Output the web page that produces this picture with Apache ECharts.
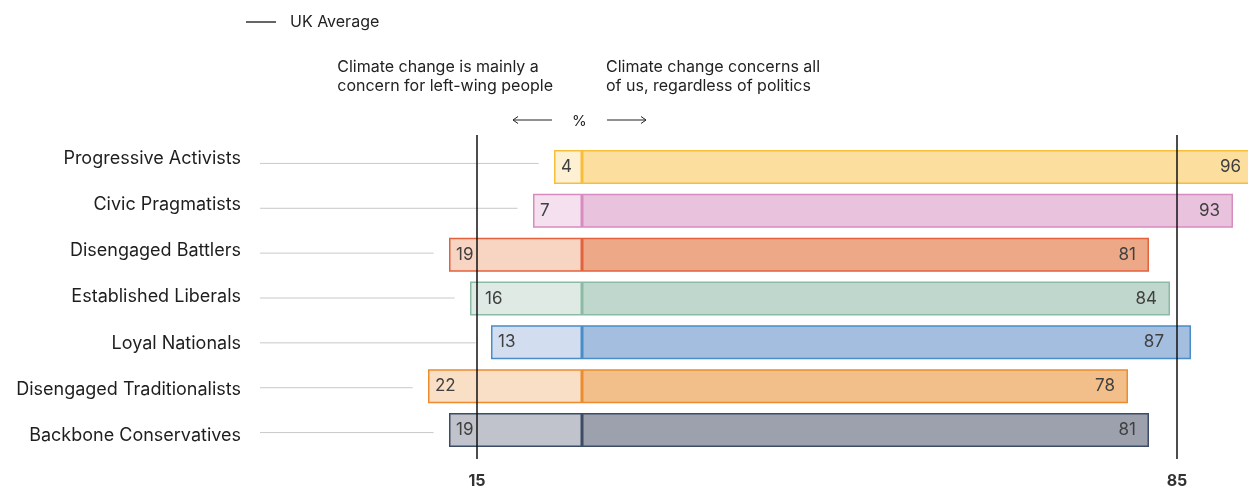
<!DOCTYPE html>
<html>
<head>
<meta charset="utf-8">
<script src="https://cdn.jsdelivr.net/npm/echarts@6/dist/echarts.min.js"></script>
<style>
  html, body { margin: 0; padding: 0; background: #fff; }
  #chart { width: 1248px; height: 489px; }
</style>
</head>
<body>
<div id="chart"></div>
<script>
// segments, top to bottom
const categories = ['Progressive Activists', 'Civic Pragmatists', 'Disengaged Battlers', 'Established Liberals',
  'Loyal Nationals', 'Disengaged Traditionalists', 'Backbone Conservatives'];
// "mainly a concern for left-wing people" (%)
const leftValues = [4, 7, 19, 16, 13, 22, 19];
// "concerns all of us, regardless of politics" (%)
const rightValues = [96, 93, 81, 84, 87, 78, 81];
const ukAverage = [15, 85];
const tickLabels = [-15, 85];

const darkColors = ['#FCDE9E', '#E9C2DE', '#EDA987', '#BFD7CC', '#A3BEDE', '#F2BE89', '#9DA1AE'];
const lightColors = ['#FEF0D3', '#F4E0EF', '#F8D5C3', '#DFEAE5', '#D2DEEF', '#F9DFC5', '#C0C3CB'];
const borderColors = ['#F7BE3C', '#D78CBF', '#E2623E', '#8CBBA5', '#4A8CC8', '#EC8C2E', '#3C4C66'];

const FONT = 'Inter, "Noto Sans", sans-serif';
const X_MIN = -46, X_MAX = 96;

var myChart = echarts.init(document.getElementById('chart'));

// push a value label clear of the UK average line when they would overlap
var leftData = leftValues.map(function (v, i) {
  var nearLine = v > ukAverage[0] && v - ukAverage[0] < 2;
  return {
    value: -v,
    itemStyle: { color: lightColors[i], borderColor: borderColors[i] },
    label: { distance: nearLine ? 15 : 7 }
  };
});
var rightData = rightValues.map(function (v, i) {
  var nearLine = v > ukAverage[1] && v - ukAverage[1] < 4;
  return {
    value: v,
    itemStyle: { color: darkColors[i], borderColor: borderColors[i] },
    label: { distance: nearLine ? 27 : 13 }
  };
});
var connectorData = leftValues.map(function (v, i) {
  return [-v, categories[i]];
});

function xAxisFor(idx, extra) {
  return Object.assign({
    type: 'value',
    gridIndex: idx,
    min: X_MIN,
    max: X_MAX,
    show: false
  }, extra || {});
}

// grid runs a little past the right edge so 96 is cut off like in the original
function gridAt(top, height) {
  return { left: 260, right: -6, top: top, height: height, outerBoundsMode: 'none', containLabel: false };
}

myChart.setOption({
  animation: false,
  textStyle: { fontFamily: FONT },
  legend: {
    left: 241,
    top: 9,
    icon: 'rect',
    itemWidth: 30,
    itemHeight: 1.3,
    itemStyle: { color: '#111' },
    data: ['UK Average'],
    textStyle: { fontSize: 16, color: '#222', padding: [0, 0, 0, 9], fontFamily: FONT }
  },
  grid: [
    gridAt(145, 307),   // bars
    gridAt(135, 324),   // labels + UK average
    gridAt(141, 314)    // connector lines
  ],
  xAxis: [
    xAxisFor(0),
    xAxisFor(1, {
      show: true,
      axisLine: { show: false },
      axisTick: { show: false },
      splitLine: { show: false },
      axisLabel: {
        customValues: tickLabels,
        formatter: function (v) { return Math.abs(v); },
        fontSize: 16,
        fontWeight: 'bold',
        color: '#333',
        margin: 14,
        fontFamily: FONT
      }
    }),
    xAxisFor(2)
  ],
  yAxis: [
    { type: 'category', gridIndex: 0, data: categories, inverse: true, show: false },
    {
      type: 'category', gridIndex: 1, data: categories, inverse: true,
      axisLine: { show: false },
      axisTick: { show: false },
      axisLabel: { fontSize: 18, color: '#1e1e1e', margin: 19, fontFamily: FONT }
    },
    { type: 'category', gridIndex: 2, data: categories, inverse: true, show: false }
  ],
  series: [
    {
      type: 'bar',
      name: 'left',
      xAxisIndex: 0,
      yAxisIndex: 0,
      stack: 'one',
      barWidth: 34,
      data: leftData,
      itemStyle: { borderWidth: 1.5 },
      label: {
        show: true,
        position: 'insideLeft',
        fontSize: 17,
        color: '#404040',
        fontFamily: FONT,
        formatter: function (p) { return Math.abs(p.value); }
      }
    },
    {
      type: 'bar',
      name: 'right',
      xAxisIndex: 0,
      yAxisIndex: 0,
      stack: 'one',
      barWidth: 34,
      data: rightData,
      itemStyle: { borderWidth: 1.5 },
      label: {
        show: true,
        position: 'insideRight',
        fontSize: 17,
        color: '#404040',
        fontFamily: FONT
      }
    },
    {
      type: 'custom',
      name: 'connectors',
      xAxisIndex: 2,
      yAxisIndex: 2,
      silent: true,
      data: connectorData,
      encode: { x: 0, y: 1 },
      renderItem: function (params, api) {
        var start = api.coord([X_MIN, api.value(1)]);
        var end = api.coord([api.value(0) - 2.2, api.value(1)]);
        return {
          type: 'line',
          shape: { x1: start[0], y1: start[1], x2: end[0], y2: end[1] },
          style: { stroke: '#c9c9c9', lineWidth: 1 }
        };
      }
    },
    {
      type: 'line',
      name: 'UK Average',
      xAxisIndex: 1,
      yAxisIndex: 1,
      symbol: 'none',
      data: [],
      lineStyle: { color: '#111', width: 1.3 },
      itemStyle: { color: '#111' },
      markLine: {
        silent: true,
        symbol: 'none',
        label: { show: false },
        lineStyle: { color: '#111', width: 1.5, type: 'solid' },
        data: [{ xAxis: -ukAverage[0] }, { xAxis: ukAverage[1] }]
      }
    }
  ],
  graphic: [
    {
      type: 'text',
      right: 1248 - 553,
      top: 58,
      style: {
        text: 'Climate change is mainly a\nconcern for left-wing people',
        align: 'right',
        fontSize: 16,
        lineHeight: 19,
        fill: '#222',
        fontFamily: FONT
      }
    },
    {
      type: 'text',
      left: 606,
      top: 58,
      style: {
        text: 'Climate change concerns all\nof us, regardless of politics',
        fontSize: 16,
        lineHeight: 19,
        fill: '#222',
        fontFamily: FONT
      }
    },
    {
      type: 'text',
      left: 572,
      top: 114,
      style: { text: '%', fontSize: 15, fill: '#222', fontFamily: FONT }
    },
    {
      type: 'polyline',
      shape: { points: [[552, 120], [513, 120]] },
      style: { stroke: '#222', lineWidth: 1 }
    },
    {
      type: 'polyline',
      shape: { points: [[518, 116.5], [513, 120], [518, 123.5]] },
      style: { stroke: '#222', lineWidth: 1, fill: null }
    },
    {
      type: 'polyline',
      shape: { points: [[607, 120], [646, 120]] },
      style: { stroke: '#222', lineWidth: 1 }
    },
    {
      type: 'polyline',
      shape: { points: [[641, 116.5], [646, 120], [641, 123.5]] },
      style: { stroke: '#222', lineWidth: 1, fill: null }
    }
  ]
});
</script>
</body>
</html>
